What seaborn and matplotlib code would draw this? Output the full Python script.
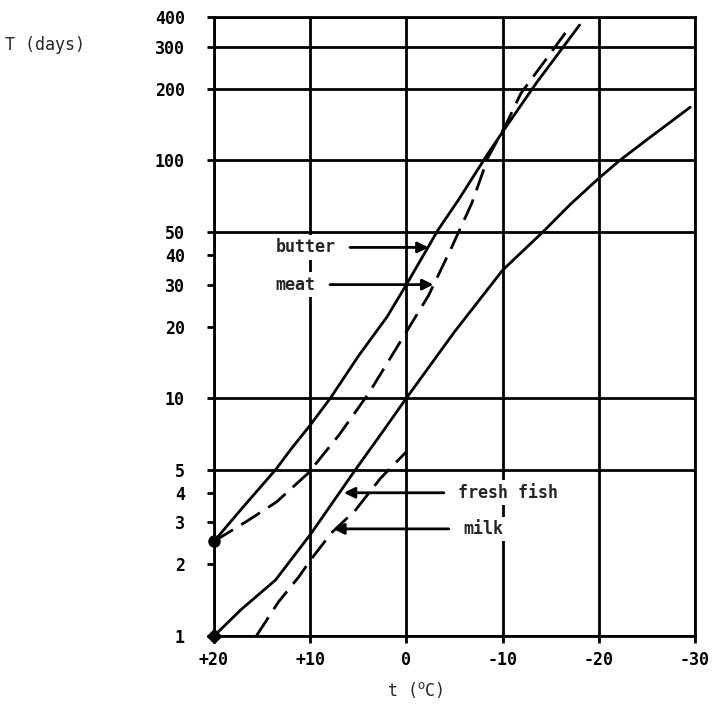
import numpy as np
import pandas as pd
import matplotlib
matplotlib.use("Agg")
import matplotlib.pyplot as plt
from matplotlib.ticker import NullLocator
import seaborn as sns

# ---- data (temperature in deg C, storage time in days) ----
butter_t = [20, 17.2, 13.6, 12, 10, 7.9, 5, 2, 0, -3.3, -5.4, -8.5, -10.3, -13.5, -18]
butter_T = [2.5, 3.4, 5, 6.1, 7.7, 10, 15, 22, 30, 51, 68, 107, 137, 211, 370]

meat_t = [20, 16.4, 13.5, 10.2, 7.0, 3.9, 0, -2.3, -4.7, -6.8, -8.5, -10.3, -11.9, -14.5, -17.1]
meat_T = [2.5, 3.07, 3.66, 4.84, 7.0, 10.5, 19, 27, 43, 66, 103, 140, 191, 265, 369]

fish_t = [20, 17.2, 13.6, 9.9, 5.3, 2.6, 0, -5, -10, -14.2, -17, -20, -22.2, -25, -29.5]
fish_T = [1, 1.29, 1.72, 2.7, 5, 7.1, 10, 19, 34.5, 50, 65, 84, 100, 122, 167]

milk_t = [15.6, 13.3, 11.2, 9.8, 7.8, 5.3, 2.7, 0.0]
milk_T = [1.0, 1.39, 1.77, 2.13, 2.71, 3.38, 4.6, 5.95]

x_ticks = [20, 10, 0, -10, -20, -30]
x_labels = ["+20", "+10", "0", "-10", "-20", "-30"]
y_ticks = [1, 2, 3, 4, 5, 10, 20, 30, 40, 50, 100, 200, 300, 400]
y_grid = [1, 5, 10, 50, 100, 200, 300, 400]

labels = ["butter", "meat", "fresh fish", "milk"]
label_text_t = [13.6, 13.6, -5.4, -5.9]
label_T = [43, 30, 4.0, 2.82]
arrow_tip_t = [-2.3, -2.8, 6.5, 7.6]

# ---- style ----
sns.set_theme(style="ticks")
plt.rcParams['font.family'] = ['DejaVu Sans Mono', 'DejaVu Sans']

fig = plt.figure(figsize=(7.22, 7.06), dpi=100)
ax = fig.add_axes([214 / 722, 1 - 636 / 706, (695 - 214) / 722, (636 - 17) / 706])
ax.set_yscale('log')
ax.set_xlim(20, -30)
ax.set_ylim(1, 400)

for y in y_grid:
    ax.axhline(y, color='black', lw=2, zorder=1)
for x in x_ticks:
    ax.axvline(x, color='black', lw=2, zorder=1)

dash = (0, (8, 3.5))
sns.lineplot(x=butter_t, y=butter_T, ax=ax, color='black', lw=2, sort=False, estimator=None, zorder=2)
sns.lineplot(x=meat_t, y=meat_T, ax=ax, color='black', lw=2, sort=False, estimator=None, linestyle=dash, zorder=2)
sns.lineplot(x=fish_t, y=fish_T, ax=ax, color='black', lw=2, sort=False, estimator=None, zorder=2)
sns.lineplot(x=milk_t, y=milk_T, ax=ax, color='black', lw=2, sort=False, estimator=None, linestyle=dash, zorder=2)

ax.plot([butter_t[0]], [butter_T[0]], marker='o', ms=8, color='black', clip_on=False, zorder=4)
ax.plot([fish_t[0]], [fish_T[0]], marker='D', ms=7, color='black', clip_on=False, zorder=4)

for lab, tt, TT, tip in zip(labels, label_text_t, label_T, arrow_tip_t):
    ax.annotate(lab, xy=(tip, TT), xytext=(tt, TT), ha='left', va='center',
                fontsize=12, fontweight='bold', zorder=5,
                bbox=dict(boxstyle='square,pad=0.2', fc='white', ec='none'),
                arrowprops=dict(arrowstyle='-|>', color='black', lw=2,
                                shrinkA=8, shrinkB=0, mutation_scale=16))

ax.set_xticks(x_ticks)
ax.set_xticklabels(x_labels)
ax.set_yticks(y_ticks)
ax.set_yticklabels([str(v) for v in y_ticks])
ax.yaxis.set_minor_locator(NullLocator())
ax.xaxis.set_minor_locator(NullLocator())
ax.tick_params(axis='both', direction='out', length=5, width=2, color='black',
               labelsize=12, labelcolor='black')
ax.tick_params(axis='y', pad=16)
ax.tick_params(axis='x', pad=6)
for lbl in ax.get_xticklabels() + ax.get_yticklabels():
    lbl.set_fontweight('bold')

for s in ax.spines.values():
    s.set_visible(True)
    s.set_color('black')
    s.set_linewidth(2)

ax.set_xlabel('')
ax.set_ylabel('')
fig.text(5 / 722, 1 - 45 / 706, 'T (days)', ha='left', va='center', fontsize=12)
fig.text(415 / 722, 1 - 690 / 706, r't ($^{\mathrm{o}}$C)', ha='center', va='center', fontsize=12)

fig.savefig('out.png', dpi=100, facecolor='white')
